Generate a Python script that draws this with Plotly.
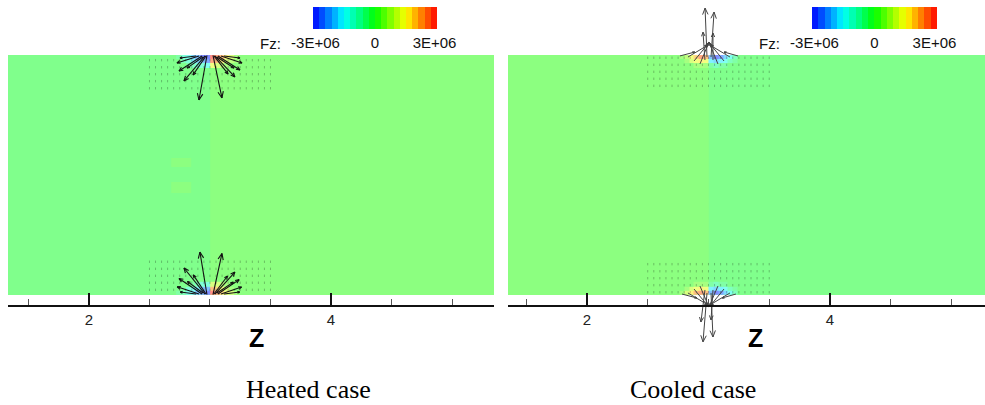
import math
import plotly.graph_objects as go

# ======================= DATA =======================
# Contour variable Fz, values in units of 1E+06
fz_min, fz_max = -3.125, 3.125
n_levels = 20
cbar_tickvals = [-3.0, 0.0, 3.0]
cbar_ticktext = ["-3E+06", "0", "3E+06"]
cbar_title = "Fz:"
axis_title = "Z"
panel_captions = ["Heated case", "Cooled case"]

# background field (cell edges in z and r, Fz per cell; rows bottom -> top)
heated_bg_z = [1.2, 2.678, 2.843, 3.0, 5.6]
heated_bg_r = [-1.0, -0.15, -0.058, 0.069, 0.144, 1.0]
heated_bg_fz = [
    [-0.1, -0.1, -0.1, 0.1],
    [-0.1, 0.05, -0.1, 0.1],
    [-0.1, -0.1, -0.1, 0.1],
    [-0.1, 0.05, -0.1, 0.1],
    [-0.1, -0.1, -0.1, 0.1],
]
cooled_bg_z = [1.2, 3.0, 5.6]
cooled_bg_r = [-1.0, 1.0]
cooled_bg_fz = [[0.1, -0.1]]

# near-wall Fz around the interface z = 3
wall_z = [2.72, 2.76, 2.80, 2.84, 2.88, 2.92, 2.96, 3.00,
          3.04, 3.08, 3.12, 3.16, 3.20, 3.24, 3.28]
top_r = [0.89, 0.93, 0.965, 1.0]
bottom_r = [-1.0, -0.965, -0.93, -0.89]
heated_top_fz = [
    [-0.1, -0.2, -0.4, -0.7, -1.0, -1.2, -1.3, 1.3, 1.1, 0.8, 0.5, 0.3, 0.1, 0.05],
    [-0.3, -0.7, -1.1, -1.6, -2.0, -2.4, -2.6, 2.6, 2.2, 1.7, 1.2, 0.7, 0.35, 0.1],
    [-0.5, -1.0, -1.4, -1.9, -2.4, -2.9, -3.1, 3.1, 2.7, 2.2, 1.6, 1.1, 0.6, 0.2],
]
heated_bot_fz = [
    [-0.4, -0.9, -1.3, -1.8, -2.3, -2.8, -3.1, 3.1, 2.6, 2.0, 1.5, 1.0, 0.5, 0.15],
    [-0.2, -0.6, -1.0, -1.4, -1.8, -2.2, -2.4, 2.4, 2.0, 1.5, 1.0, 0.6, 0.3, 0.1],
    [-0.05, -0.15, -0.3, -0.6, -0.9, -1.1, -1.2, 1.2, 1.0, 0.7, 0.4, 0.2, 0.1, 0.05],
]
cooled_top_fz = [
    [0.05, 0.05, 0.15, 0.3, 0.45, 0.55, 0.5, -0.55, -0.65, -0.55, -0.45, -0.3, -0.15, -0.05],
    [0.1, 0.3, 0.6, 1.0, 1.4, 1.7, 1.5, -1.6, -2.0, -1.7, -1.3, -0.9, -0.5, -0.15],
    [0.2, 0.5, 0.9, 1.5, 2.1, 2.6, 2.2, -2.4, -3.0, -2.6, -2.0, -1.4, -0.8, -0.3],
]
cooled_bot_fz = [
    [0.2, 0.6, 1.0, 1.6, 2.2, 2.7, 2.3, -2.5, -3.0, -2.7, -2.1, -1.5, -0.8, -0.3],
    [0.1, 0.3, 0.6, 1.0, 1.4, 1.7, 1.5, -1.6, -2.0, -1.7, -1.3, -0.9, -0.5, -0.15],
    [0.05, 0.05, 0.15, 0.3, 0.45, 0.55, 0.5, -0.55, -0.65, -0.55, -0.45, -0.3, -0.15, -0.05],
]

# force vectors (base z, base r, dz, dr)
heated_top_z0 = [2.975, 3.025, 2.959, 3.041, 2.934, 3.066, 2.909, 3.091, 2.884, 3.116, 2.967, 3.033, 2.942, 3.058]
heated_top_r0 = [0.996, 0.996, 0.992, 0.992, 0.992, 0.992, 0.992, 0.992, 0.992, 0.992, 0.992, 0.992, 0.983, 0.983]
heated_top_u = [-0.066, 0.074, -0.174, 0.165, -0.190, 0.182, -0.182, 0.174, -0.132, 0.132, -0.107, 0.116, -0.132, 0.140]
heated_top_v = [-0.371, -0.354, -0.208, -0.175, -0.125, -0.117, -0.058, -0.058, -0.017, -0.017, -0.158, -0.150, -0.092, -0.092]

heated_bot_z0 = [2.975, 3.025, 2.959, 3.041, 2.934, 3.066, 2.909, 3.091, 2.884, 3.116, 2.967, 3.033, 2.942, 3.058]
heated_bot_r0 = [-0.996, -0.996, -0.992, -0.992, -0.992, -0.992, -0.992, -0.992, -0.992, -0.992, -0.992, -0.992, -0.983, -0.983]
heated_bot_u = [-0.058, 0.074, -0.174, 0.165, -0.190, 0.175, -0.180, 0.170, -0.130, 0.130, -0.105, 0.112, -0.128, 0.135]
heated_bot_v = [0.354, 0.342, 0.217, 0.183, 0.130, 0.120, 0.060, 0.058, 0.017, 0.017, 0.160, 0.150, 0.095, 0.090]

cooled_top_z0 = [2.988, 3.021, 2.971, 3.037, 2.831, 2.881, 2.930, 3.177, 3.128, 3.078, 2.765, 3.243]
cooled_top_r0 = [0.983, 0.983, 0.958, 0.958, 0.983, 0.950, 0.925, 0.983, 0.950, 0.925, 0.992, 0.992]
cooled_top_u = [-0.016, 0.025, -0.016, 0.0, 0.165, 0.115, 0.074, -0.165, -0.115, -0.074, 0.123, -0.115]
cooled_top_v = [0.408, 0.375, 0.233, 0.225, 0.100, 0.142, 0.183, 0.100, 0.142, 0.183, 0.033, 0.033]

cooled_bot_z0 = [2.988, 3.021, 2.971, 3.037, 2.831, 2.881, 2.930, 3.177, 3.128, 3.078, 2.782, 3.226]
cooled_bot_r0 = [-0.983, -0.983, -0.958, -0.958, -0.983, -0.950, -0.925, -0.983, -0.950, -0.925, -0.992, -0.992]
cooled_bot_u = [-0.033, 0.016, -0.033, -0.016, 0.165, 0.115, 0.074, -0.165, -0.115, -0.074, 0.123, -0.115]
cooled_bot_v = [-0.408, -0.367, -0.267, -0.250, -0.100, -0.142, -0.175, -0.100, -0.142, -0.175, -0.033, -0.033]

# small vectors on the near-wall grid (columns in z, depths from the wall)
grid_z = [2.50, 2.55, 2.60, 2.65, 2.70, 2.75, 2.80, 2.85, 2.90, 2.95, 3.00,
          3.05, 3.10, 3.15, 3.20, 3.25, 3.30, 3.35, 3.40, 3.45, 3.50]
grid_depth = [0.033, 0.092, 0.150, 0.208, 0.267]
grid_len = 0.02

# ======================= STYLE / LAYOUT =======================
W, H = 985, 405
FONT = "Liberation Sans, Arial, sans-serif"
SERIF = "Liberation Serif, Times New Roman, serif"
left_range = [1.331, 5.347]
right_range = [1.35, 5.276]
r_range = [-1.9167, 1.4583]
left_dom = [8 / W, 494 / W]
right_dom = [508 / W, 1.0]
px_per_r = 120.0
px_per_z = {"x": 121.0, "x2": 121.5}

rainbow = [(0.0, (0, 0, 255)), (0.25, (0, 255, 255)), (0.5, (0, 255, 0)),
           (0.75, (255, 255, 0)), (1.0, (255, 0, 0))]


def rainbow_at(t):
    for (t0, c0), (t1, c1) in zip(rainbow[:-1], rainbow[1:]):
        if t <= t1:
            f = (t - t0) / (t1 - t0)
            return tuple(c0[k] + f * (c1[k] - c0[k]) for k in range(3))
    return rainbow[-1][1]


def banded_scale(wash):
    cs = []
    for i in range(n_levels):
        c = rainbow_at((i + 0.5) / n_levels)
        c = tuple(wash * 255 + (1 - wash) * v for v in c)
        col = "rgb(%d,%d,%d)" % tuple(round(v) for v in c)
        cs.append([i / n_levels, col])
        cs.append([(i + 1) / n_levels, col])
    return cs


flood_scale = banded_scale(0.5)   # translucent flood over white
legend_scale = banded_scale(0.0)

fig = go.Figure()


def add_field(xa, ya, zedges, redges, vals):
    fig.add_trace(go.Heatmap(
        x=zedges, y=redges, z=vals, xaxis=xa, yaxis=ya,
        colorscale=flood_scale, zmin=fz_min, zmax=fz_max,
        showscale=False, zsmooth=False, hoverinfo="skip"))


add_field("x", "y", heated_bg_z, heated_bg_r, heated_bg_fz)
add_field("x", "y", wall_z, top_r, heated_top_fz)
add_field("x", "y", wall_z, bottom_r, heated_bot_fz)
add_field("x2", "y2", cooled_bg_z, cooled_bg_r, cooled_bg_fz)
add_field("x2", "y2", wall_z, top_r, cooled_top_fz)
add_field("x2", "y2", wall_z, bottom_r, cooled_bot_fz)


def add_grid(xa, ya, toward_wall):
    xs, ys = [], []
    for wall in (1.0, -1.0):
        inward = -wall
        for d in grid_depth:
            r0 = wall + inward * d
            step = (-inward if toward_wall else inward) * grid_len
            for z in grid_z:
                xs += [z, z, None]
                ys += [r0, r0 + step, None]
    fig.add_trace(go.Scatter(x=xs, y=ys, xaxis=xa, yaxis=ya, mode="lines",
                             line=dict(color="rgba(0,0,0,0.25)", width=1),
                             hoverinfo="skip"))


add_grid("x", "y", False)
add_grid("x2", "y2", True)


def add_arrows(xa, ya, z0, r0, u, v, color, width):
    sx, sy = px_per_z[xa], px_per_r
    xs, ys = [], []
    for a, b, du, dv in zip(z0, r0, u, v):
        tz, tr = a + du, b + dv
        pdx, pdy = du * sx, dv * sy
        ln = math.hypot(pdx, pdy)
        ux, uy = pdx / ln, pdy / ln
        hl = min(7.0, max(2.5, 0.16 * ln))
        xs += [a, tz, None]
        ys += [b, tr, None]
        for ang in (0.4, -0.4):
            ca, sa = math.cos(ang), math.sin(ang)
            rx = ux * ca - uy * sa
            ry = ux * sa + uy * ca
            xs += [tz - hl * rx / sx, tz, None]
            ys += [tr - hl * ry / sy, tr, None]
    fig.add_trace(go.Scatter(x=xs, y=ys, xaxis=xa, yaxis=ya, mode="lines",
                             line=dict(color=color, width=width),
                             hoverinfo="skip"))


add_arrows("x", "y", heated_top_z0, heated_top_r0, heated_top_u, heated_top_v, "#111111", 1.1)
add_arrows("x", "y", heated_bot_z0, heated_bot_r0, heated_bot_u, heated_bot_v, "#111111", 1.1)
add_arrows("x2", "y2", cooled_top_z0, cooled_top_r0, cooled_top_u, cooled_top_v, "#444444", 1)
add_arrows("x2", "y2", cooled_bot_z0, cooled_bot_r0, cooled_bot_u, cooled_bot_v, "#444444", 1)


def add_colorbar(xa, ya, xpos, length):
    fig.add_trace(go.Scatter(
        x=[3.0, 3.0], y=[0.0, 0.0], xaxis=xa, yaxis=ya, mode="markers",
        marker=dict(size=1, opacity=0, color=[fz_min, fz_max],
                    colorscale=legend_scale, cmin=fz_min, cmax=fz_max,
                    showscale=True,
                    colorbar=dict(orientation="h", x=xpos, xanchor="left",
                                  y=1 - 7 / H, yanchor="top",
                                  len=length, lenmode="pixels",
                                  thickness=22, thicknessmode="pixels",
                                  xpad=0, ypad=0, outlinewidth=0,
                                  tickvals=cbar_tickvals, ticktext=cbar_ticktext,
                                  ticks="", ticklen=0,
                                  tickfont=dict(family=FONT, size=15, color="#111"))),
        hoverinfo="skip"))


add_colorbar("x", "y", 313 / W, 124)
add_colorbar("x2", "y2", 812 / W, 125)

axis_common = dict(
    anchor="free", position=99 / H, showgrid=False, zeroline=False,
    showline=True, linecolor="#111", linewidth=2,
    tickmode="linear", tick0=0, dtick=2, ticks="inside", ticklen=12,
    tickwidth=2, tickcolor="#111",
    tickfont=dict(family=FONT, size=15, color="#222"),
    minor=dict(dtick=0.5, tick0=0, ticks="inside", ticklen=6, tickwidth=1,
               tickcolor="#555", showgrid=False),
    fixedrange=True,
)
yaxis_common = dict(range=r_range, domain=[0, 1], visible=False, fixedrange=True)

fig.update_layout(
    width=W, height=H, margin=dict(l=0, r=0, t=0, b=0),
    paper_bgcolor="white", plot_bgcolor="white", showlegend=False,
    xaxis=dict(domain=left_dom, range=left_range, **axis_common),
    xaxis2=dict(domain=right_dom, range=right_range, **axis_common),
    yaxis=dict(anchor="x", **yaxis_common),
    yaxis2=dict(anchor="x2", **yaxis_common),
)

ann = []
for cx in (270, 769):
    ann.append(dict(x=cx / W, y=1 - 43 / H, xref="paper", yref="paper",
                    text=cbar_title, showarrow=False, xanchor="center", yanchor="middle",
                    font=dict(family=FONT, size=15, color="#111")))
for cx in (256.5, 755.5):
    ann.append(dict(x=cx / W, y=1 - 338 / H, xref="paper", yref="paper",
                    text=axis_title, showarrow=False, xanchor="center", yanchor="middle",
                    font=dict(family=FONT, size=25, color="#000", weight="bold")))
for cx, txt in zip((308, 692.5), panel_captions):
    ann.append(dict(x=cx / W, y=1 - 389 / H, xref="paper", yref="paper",
                    text=txt, showarrow=False, xanchor="center", yanchor="middle",
                    font=dict(family=SERIF, size=26, color="#000")))
fig.update_layout(annotations=ann)

fig.write_html("out.html")
